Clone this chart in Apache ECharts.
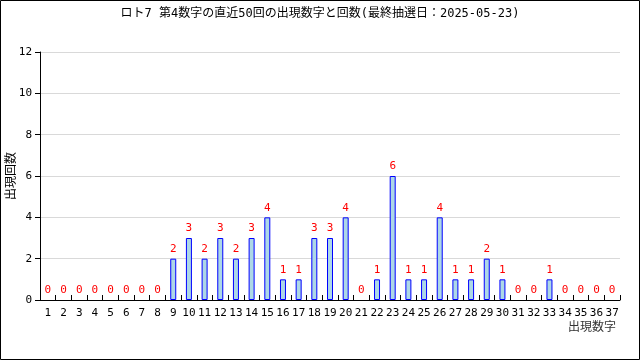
<!DOCTYPE html>
<html><head><meta charset="utf-8">
<script src="https://cdn.jsdelivr.net/npm/echarts@6/dist/echarts.min.js"></script>
<style>html,body{margin:0;padding:0;background:#fff}#c{width:640px;height:360px}</style>
</head><body><div id="c"></div>
<script>
const titleText = 'ロト7 第4数字の直近50回の出現数字と回数(最終抽選日：2025-05-23)';
const categories = ['1','2','3','4','5','6','7','8','9','10','11','12','13','14','15','16','17','18','19','20','21','22','23','24','25','26','27','28','29','30','31','32','33','34','35','36','37'];
const counts = [0,0,0,0,0,0,0,0,2,3,2,3,2,3,4,1,1,3,3,4,0,1,6,1,1,4,1,1,2,1,0,0,1,0,0,0,0];
const yTicks = [0,2,4,6,8,10,12];

const chart = echarts.init(document.getElementById('c'), null, {renderer:'canvas'});
const mono = 'DejaVu Sans Mono, monospace';
const barData = counts.map(v => v === 0
  ? {value:v, itemStyle:{color:'rgba(0,0,0,0)', borderWidth:0}}
  : {value:v});
chart.setOption({
  animation:false,
  backgroundColor:'#fff',
  title:{text:titleText,left:'center',top:3,textStyle:{fontSize:12,fontWeight:'normal',color:'#000',fontFamily:'DejaVu Sans Mono, Noto Sans CJK JP'}},
  grid:{left:40,right:20,top:52,bottom:60,containLabel:false,outerBoundsMode:'none'},
  xAxis:{type:'category',data:categories,
    name:'出現数字',nameLocation:'end',nameGap:0,
    nameTextStyle:{fontSize:12,color:'#333',fontFamily:'Noto Sans CJK JP',align:'right',verticalAlign:'top',padding:[20,4,0,0]},
    axisLine:{lineStyle:{color:'#000',width:1}},
    axisTick:{show:true,inside:true,length:5,lineStyle:{color:'#000'}},
    axisLabel:{color:'#000',fontSize:11,fontFamily:mono,margin:8,interval:0},
    splitLine:{show:false}},
  yAxis:{type:'value',min:yTicks[0],max:yTicks[yTicks.length-1],interval:2,
    name:'出現回数',nameLocation:'middle',nameGap:24,nameRotate:90,nameMoveOverlap:false,
    nameTextStyle:{fontSize:12,color:'#000',fontFamily:'Noto Sans CJK JP'},
    axisLine:{show:true,lineStyle:{color:'#000',width:1}},
    axisTick:{show:true,length:5,lineStyle:{color:'#000'}},
    axisLabel:{color:'#000',fontSize:11,fontFamily:mono,margin:8},
    splitLine:{show:true,lineStyle:{color:'#d9d9d9',width:1}}},
  series:[{type:'bar',data:barData,barWidth:6,
    itemStyle:{color:'#add8e6',borderColor:'#0000ff',borderWidth:1},
    label:{show:true,position:'top',distance:4,color:'#ff0000',fontSize:11,fontFamily:mono}}],
  graphic:[{type:'rect',shape:{x:0.5,y:0.5,width:639,height:359},style:{fill:null,stroke:'#000',lineWidth:1},silent:true}]
});
</script></body></html>
